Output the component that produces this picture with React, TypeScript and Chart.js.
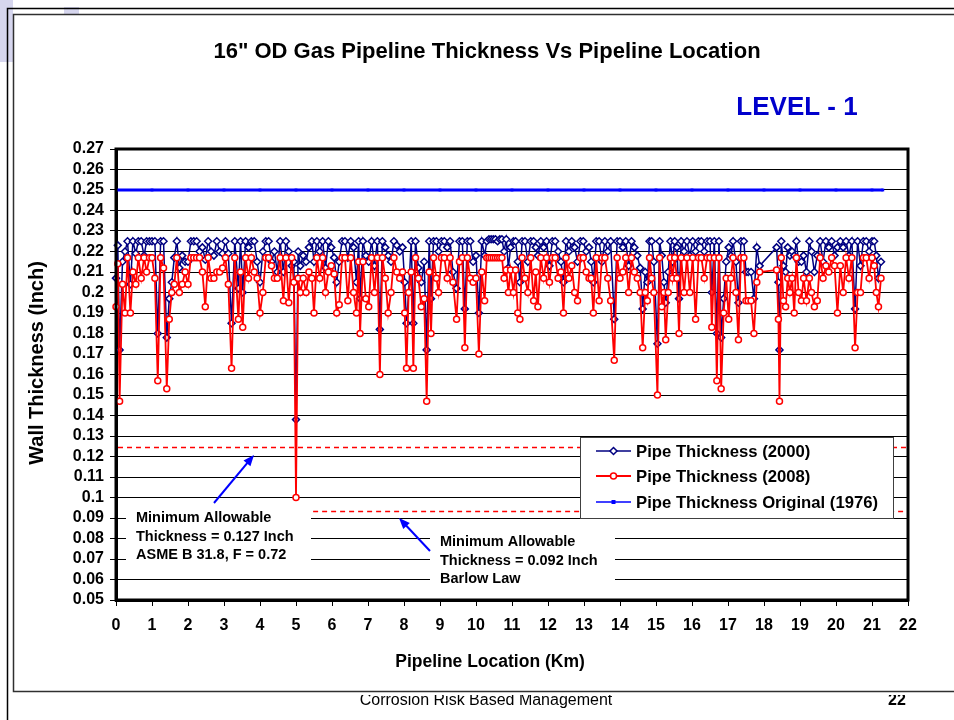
import React, { useEffect, useRef } from "react";
import { Chart, registerables } from "chart.js";

Chart.register(...registerables);

// ---------------- data ----------------
const LOCATION_KM = [
  0.0, 0.05, 0.1, 0.18, 0.25, 0.32, 0.4, 0.47, 0.55, 0.62, 0.7, 0.78, 0.85, 0.93,
  1.0, 1.08, 1.16, 1.24, 1.32, 1.41, 1.48, 1.55, 1.62, 1.69, 1.76, 1.84, 1.92,
  2.0, 2.08, 2.16, 2.24, 2.32, 2.4, 2.48, 2.56, 2.64, 2.72, 2.8, 2.88, 2.96,
  3.04, 3.12, 3.21, 3.3, 3.4, 3.46, 3.52, 3.6, 3.68, 3.76, 3.84, 3.92, 4.0,
  4.08, 4.16, 4.24, 4.32, 4.4, 4.48, 4.56, 4.65, 4.72, 4.8, 4.88, 4.94, 5.0, 5.06,
  5.12, 5.2, 5.28, 5.36, 5.44, 5.5, 5.58, 5.66, 5.74, 5.82, 5.9, 5.98,
  6.06, 6.13, 6.2, 6.28, 6.36, 6.44, 6.52, 6.6, 6.68, 6.74, 6.78, 6.86, 6.94,
  7.02, 7.1, 7.18, 7.26, 7.33, 7.4, 7.48, 7.56, 7.64, 7.72, 7.8, 7.88, 7.96,
  8.02, 8.07, 8.13, 8.2, 8.26, 8.32, 8.4, 8.48, 8.56, 8.63, 8.7, 8.75, 8.82, 8.9, 8.96,
  9.04, 9.12, 9.2, 9.28, 9.36, 9.46, 9.54, 9.62, 9.69, 9.76, 9.84, 9.92, 10.0, 10.08,
  10.16, 10.24, 10.3, 10.36, 10.42, 10.48, 10.54, 10.6, 10.66, 10.72, 10.78, 10.84, 10.9, 10.96,
  11.04, 11.1, 11.16, 11.22, 11.28, 11.36, 11.44, 11.52, 11.6, 11.66, 11.72, 11.8, 11.88, 11.96,
  12.04, 12.12, 12.2, 12.28, 12.36, 12.43, 12.5, 12.58, 12.66, 12.74, 12.82, 12.9, 12.98,
  13.06, 13.14, 13.2, 13.26, 13.34, 13.42, 13.5, 13.58, 13.66, 13.74, 13.84, 13.92, 14.0,
  14.08, 14.16, 14.24, 14.32, 14.4, 14.48, 14.56, 14.63, 14.7, 14.76, 14.82, 14.88, 14.94, 15.04,
  15.1, 15.16, 15.22, 15.27, 15.34, 15.4, 15.46, 15.52, 15.58, 15.64, 15.7, 15.78, 15.86, 15.94,
  16.02, 16.1, 16.18, 16.26, 16.34, 16.42, 16.5, 16.55, 16.62, 16.69, 16.75, 16.81, 16.88, 16.95,
  17.02, 17.08, 17.14, 17.22, 17.29, 17.36, 17.44, 17.5, 17.56, 17.64, 17.72, 17.8, 17.88,
  18.35, 18.4, 18.43, 18.48, 18.54, 18.6, 18.66, 18.72, 18.78, 18.84, 18.9, 18.96,
  19.04, 19.1, 19.18, 19.26, 19.32, 19.4, 19.48, 19.56, 19.64, 19.72, 19.8, 19.88, 19.96,
  20.04, 20.12, 20.2, 20.28, 20.36, 20.44, 20.53, 20.6, 20.68, 20.76, 20.84, 20.92, 21.0, 21.06, 21.12, 21.18, 21.25,
];

const THICKNESS_2000 = [
  0.207, 0.223, 0.172, 0.215, 0.22, 0.225, 0.204, 0.225, 0.219, 0.225, 0.225, 0.218, 0.225, 0.225,
  0.225, 0.225, 0.18, 0.225, 0.225, 0.178, 0.197, 0.205, 0.217, 0.225, 0.212, 0.218, 0.215,
  0.215, 0.225, 0.225, 0.225, 0.22, 0.222, 0.216, 0.225, 0.22, 0.218, 0.225, 0.22, 0.219,
  0.225, 0.219, 0.185, 0.225, 0.202, 0.225, 0.2, 0.225, 0.222, 0.225, 0.225, 0.215, 0.205,
  0.22, 0.225, 0.225, 0.215, 0.22, 0.21, 0.225, 0.21, 0.225, 0.22, 0.213, 0.215, 0.138, 0.22,
  0.213, 0.218, 0.215, 0.222, 0.225, 0.215, 0.225, 0.22, 0.225, 0.212, 0.225, 0.222,
  0.217, 0.205, 0.215, 0.225, 0.225, 0.217, 0.225, 0.222, 0.205, 0.225, 0.197, 0.225, 0.218,
  0.215, 0.225, 0.213, 0.225, 0.182, 0.225, 0.222, 0.218, 0.215, 0.225, 0.223, 0.22, 0.222,
  0.205, 0.185, 0.2, 0.225, 0.185, 0.225, 0.212, 0.205, 0.215, 0.172, 0.225, 0.197, 0.225, 0.225, 0.22,
  0.225, 0.225, 0.222, 0.225, 0.21, 0.202, 0.225, 0.225, 0.192, 0.225, 0.225, 0.215, 0.218, 0.19,
  0.225, 0.218, 0.225, 0.226, 0.226, 0.226, 0.226, 0.225, 0.226, 0.226, 0.22, 0.226, 0.212, 0.222,
  0.225, 0.225, 0.215, 0.205, 0.225, 0.225, 0.215, 0.225, 0.225, 0.222, 0.218, 0.225, 0.222, 0.225,
  0.213, 0.225, 0.225, 0.22, 0.215, 0.205, 0.225, 0.22, 0.225, 0.222, 0.215, 0.225, 0.225,
  0.22, 0.222, 0.215, 0.205, 0.225, 0.225, 0.215, 0.225, 0.22, 0.225, 0.187, 0.225, 0.225,
  0.222, 0.225, 0.213, 0.225, 0.222, 0.218, 0.212, 0.192, 0.21, 0.205, 0.225, 0.225, 0.215, 0.175,
  0.225, 0.218, 0.205, 0.195, 0.21, 0.225, 0.215, 0.225, 0.222, 0.197, 0.225, 0.22, 0.225, 0.218,
  0.225, 0.22, 0.225, 0.225, 0.22, 0.225, 0.225, 0.2, 0.225, 0.18, 0.225, 0.178, 0.197, 0.215,
  0.222, 0.218, 0.225, 0.215, 0.195, 0.225, 0.225, 0.21, 0.21, 0.21, 0.197, 0.222, 0.213,
  0.222, 0.205, 0.172, 0.225, 0.213, 0.21, 0.222, 0.218, 0.22, 0.218, 0.225, 0.215,
  0.215, 0.218, 0.21, 0.225, 0.22, 0.21, 0.218, 0.225, 0.215, 0.225, 0.222, 0.225, 0.218,
  0.222, 0.225, 0.222, 0.225, 0.218, 0.225, 0.192, 0.225, 0.213, 0.225, 0.225, 0.22, 0.225, 0.225, 0.218, 0.207, 0.215,
];

const THICKNESS_2008 = [
  0.193, 0.214, 0.147, 0.204, 0.19, 0.217, 0.19, 0.21, 0.204, 0.217, 0.207, 0.217, 0.21, 0.217,
  0.217, 0.207, 0.157, 0.217, 0.212, 0.153, 0.187, 0.2, 0.204, 0.217, 0.2, 0.204, 0.21,
  0.204, 0.217, 0.217, 0.217, 0.217, 0.21, 0.193, 0.217, 0.207, 0.207, 0.21, 0.21, 0.212,
  0.217, 0.204, 0.163, 0.217, 0.187, 0.21, 0.183, 0.217, 0.207, 0.217, 0.21, 0.207, 0.19,
  0.2, 0.217, 0.217, 0.213, 0.207, 0.207, 0.217, 0.196, 0.217, 0.195, 0.217, 0.205, 0.1, 0.207,
  0.2, 0.207, 0.2, 0.21, 0.207, 0.19, 0.217, 0.207, 0.217, 0.2, 0.21, 0.213,
  0.209, 0.19, 0.194, 0.217, 0.217, 0.196, 0.217, 0.2, 0.19, 0.215, 0.18, 0.215, 0.197,
  0.193, 0.217, 0.2, 0.217, 0.16, 0.217, 0.207, 0.19, 0.2, 0.217, 0.21, 0.207, 0.21,
  0.19, 0.163, 0.2, 0.21, 0.163, 0.217, 0.207, 0.193, 0.197, 0.147, 0.21, 0.18, 0.217, 0.207, 0.2,
  0.217, 0.217, 0.207, 0.217, 0.205, 0.187, 0.215, 0.217, 0.173, 0.217, 0.207, 0.205, 0.207, 0.17,
  0.21, 0.196, 0.217, 0.217, 0.217, 0.217, 0.217, 0.217, 0.217, 0.217, 0.207, 0.211, 0.2, 0.211,
  0.2, 0.211, 0.19, 0.187, 0.217, 0.207, 0.2, 0.217, 0.196, 0.21, 0.193, 0.217, 0.207, 0.217,
  0.205, 0.217, 0.217, 0.207, 0.21, 0.19, 0.217, 0.207, 0.213, 0.2, 0.196, 0.217, 0.217,
  0.21, 0.207, 0.207, 0.19, 0.217, 0.196, 0.217, 0.217, 0.207, 0.196, 0.167, 0.217, 0.207,
  0.21, 0.217, 0.2, 0.217, 0.21, 0.207, 0.2, 0.173, 0.2, 0.196, 0.217, 0.207, 0.2, 0.15,
  0.217, 0.193, 0.2, 0.177, 0.2, 0.217, 0.207, 0.217, 0.207, 0.18, 0.217, 0.2, 0.217, 0.2,
  0.217, 0.187, 0.217, 0.217, 0.207, 0.217, 0.217, 0.183, 0.217, 0.157, 0.217, 0.153, 0.19, 0.207,
  0.187, 0.207, 0.217, 0.2, 0.177, 0.217, 0.217, 0.196, 0.196, 0.196, 0.18, 0.205, 0.21,
  0.211, 0.187, 0.147, 0.217, 0.196, 0.193, 0.207, 0.2, 0.207, 0.19, 0.217, 0.2,
  0.196, 0.207, 0.196, 0.207, 0.2, 0.193, 0.196, 0.217, 0.207, 0.213, 0.21, 0.217, 0.213,
  0.19, 0.213, 0.2, 0.217, 0.207, 0.217, 0.173, 0.2, 0.2, 0.217, 0.217, 0.207, 0.217, 0.213, 0.2, 0.193, 0.207,
];

const ORIGINAL_KM = [0, 1, 2, 3, 4, 5, 6, 7, 8, 9, 10, 11, 12, 13, 14, 15, 16, 17, 18, 19, 20, 21, 21.3];
const THICKNESS_1976 = [
  0.25, 0.25, 0.25, 0.25, 0.25, 0.25, 0.25, 0.25, 0.25, 0.25, 0.25, 0.25,
  0.25, 0.25, 0.25, 0.25, 0.25, 0.25, 0.25, 0.25, 0.25, 0.25, 0.25,
];

const SERIES_LABELS = ["Pipe Thickness (2000)", "Pipe Thickness (2008)", "Pipe Thickness Original (1976)"];

const X_MIN = 0;
const X_MAX = 22;
const X_STEP = 1;
const Y_MIN = 0.05;
const Y_MAX = 0.27;
const Y_STEP = 0.01;

// minimum allowable thickness reference lines: [value, start km, end km]
const LIMIT_ASME = [0.1245, 0, 22];
const LIMIT_BARLOW = [0.0934, 5.42, 22];

const NOTE_ASME = ["Minimum Allowable", "Thickness = 0.127 Inch", "ASME B 31.8, F = 0.72"];
const NOTE_BARLOW = ["Minimum Allowable", "Thickness = 0.092 Inch", "Barlow Law"];

const TITLE = "16\" OD Gas Pipeline Thickness Vs Pipeline Location";
const SUBTITLE = "LEVEL - 1";
const X_TITLE = "Pipeline Location (Km)";
const Y_TITLE = "Wall Thickness (Inch)";
const FOOTER = "Corrosion Risk Based Management";
const PAGE = "22";

// ---------------- styles ----------------
const FONT = '"Liberation Sans", Arial, Helvetica, sans-serif';
const NAVY = "#000080";
const RED = "#FF0000";
const BLUE = "#0000FF";

function toPoints(xs: number[], ys: number[]) {
  const n = Math.min(xs.length, ys.length);
  const out: { x: number; y: number }[] = [];
  for (let i = 0; i < n; i++) out.push({ x: xs[i], y: ys[i] });
  return out;
}

function arrow(ctx: CanvasRenderingContext2D, x1: number, y1: number, x2: number, y2: number) {
  const ang = Math.atan2(y2 - y1, x2 - x1);
  const L = 11;
  const W = 4.5;
  ctx.beginPath();
  ctx.moveTo(x1, y1);
  ctx.lineTo(x2 - Math.cos(ang) * (L - 2), y2 - Math.sin(ang) * (L - 2));
  ctx.stroke();
  ctx.beginPath();
  ctx.moveTo(x2, y2);
  ctx.lineTo(x2 - L * Math.cos(ang) + W * Math.sin(ang), y2 - L * Math.sin(ang) - W * Math.cos(ang));
  ctx.lineTo(x2 - L * Math.cos(ang) - W * Math.sin(ang), y2 - L * Math.sin(ang) + W * Math.cos(ang));
  ctx.closePath();
  ctx.fill();
}

const decorPlugin = {
  id: "decor",
  beforeDraw(chart: any) {
    const ctx = chart.ctx as CanvasRenderingContext2D;
    ctx.save();
    ctx.fillStyle = "#ffffff";
    ctx.fillRect(0, 0, chart.width, chart.height);
    ctx.restore();
  },
  afterDatasetsDraw(chart: any) {
    const ctx = chart.ctx as CanvasRenderingContext2D;
    const xs = chart.scales.x;
    const ys = chart.scales.y;
    ctx.save();

    // dashed limit lines
    ctx.strokeStyle = RED;
    ctx.lineWidth = 1.5;
    ctx.setLineDash([5, 4]);
    for (const [v, a, b] of [LIMIT_ASME, LIMIT_BARLOW]) {
      const py = Math.round(ys.getPixelForValue(v)) + 0.5;
      ctx.beginPath();
      ctx.moveTo(xs.getPixelForValue(a) + 2, py);
      ctx.lineTo(xs.getPixelForValue(b) - 2, py);
      ctx.stroke();
    }
    ctx.setLineDash([]);

    // annotation boxes
    ctx.fillStyle = "#ffffff";
    ctx.fillRect(126, 505, 185, 68);
    ctx.fillRect(430, 524, 185, 67);
    ctx.fillStyle = "#000000";
    ctx.font = `bold 14.5px ${FONT}`;
    ctx.textBaseline = "middle";
    ctx.textAlign = "left";
    NOTE_ASME.forEach((t, i) => ctx.fillText(t, 136, 518 + i * 18.5));
    NOTE_BARLOW.forEach((t, i) => ctx.fillText(t, 440, 542 + i * 18.5));

    // arrows
    ctx.strokeStyle = BLUE;
    ctx.fillStyle = BLUE;
    ctx.lineWidth = 2;
    arrow(ctx, 214, 503, 254, 455);
    arrow(ctx, 430, 551, 399, 518);

    // legend
    ctx.fillStyle = "#ffffff";
    ctx.fillRect(580, 437, 313, 81);
    ctx.strokeStyle = "#404040";
    ctx.lineWidth = 1;
    ctx.strokeRect(580.5, 437.5, 313, 81);
    const rows = [451, 476, 502];
    // 2000
    ctx.strokeStyle = NAVY;
    ctx.lineWidth = 1.5;
    ctx.beginPath();
    ctx.moveTo(596, rows[0]);
    ctx.lineTo(631, rows[0]);
    ctx.stroke();
    ctx.fillStyle = "#ffffff";
    ctx.beginPath();
    ctx.moveTo(613.5, rows[0] - 3.5);
    ctx.lineTo(617, rows[0]);
    ctx.lineTo(613.5, rows[0] + 3.5);
    ctx.lineTo(610, rows[0]);
    ctx.closePath();
    ctx.fill();
    ctx.stroke();
    // 2008
    ctx.strokeStyle = RED;
    ctx.lineWidth = 1.8;
    ctx.beginPath();
    ctx.moveTo(596, rows[1]);
    ctx.lineTo(631, rows[1]);
    ctx.stroke();
    ctx.lineWidth = 1.5;
    ctx.beginPath();
    ctx.arc(613.5, rows[1], 3, 0, Math.PI * 2);
    ctx.fill();
    ctx.stroke();
    // 1976
    ctx.strokeStyle = BLUE;
    ctx.lineWidth = 1.5;
    ctx.beginPath();
    ctx.moveTo(596, rows[2]);
    ctx.lineTo(631, rows[2]);
    ctx.stroke();
    ctx.fillStyle = BLUE;
    ctx.fillRect(611.5, rows[2] - 2, 4, 4);

    ctx.fillStyle = "#000000";
    ctx.font = `bold 16.7px ${FONT}`;
    ctx.textBaseline = "middle";
    SERIES_LABELS.forEach((t, i) => ctx.fillText(t, 636, rows[i] + 1));
    ctx.restore();
  },
  afterDraw(chart: any) {
    const ctx = chart.ctx as CanvasRenderingContext2D;
    const a = chart.chartArea;
    ctx.save();
    // plot border
    ctx.strokeStyle = "#000000";
    ctx.lineWidth = 3;
    ctx.strokeRect(a.left, a.top, a.right - a.left, a.bottom - a.top);

    // slide decoration
    ctx.fillStyle = "#d6d6ee";
    ctx.fillRect(0, 0, 13, 62);
    ctx.fillRect(64, 7, 15, 7);
    ctx.strokeStyle = "#000000";
    ctx.lineWidth = 1.5;
    ctx.beginPath();
    ctx.moveTo(7.5, 720);
    ctx.lineTo(7.5, 8.5);
    ctx.lineTo(954, 8.5);
    ctx.stroke();
    ctx.strokeStyle = "#303030";
    ctx.lineWidth = 1.5;
    ctx.beginPath();
    ctx.moveTo(954, 14.5);
    ctx.lineTo(13.5, 14.5);
    ctx.lineTo(13.5, 691.5);
    ctx.lineTo(954, 691.5);
    ctx.stroke();

    // footer (partly hidden behind the chart frame)
    ctx.save();
    ctx.beginPath();
    ctx.rect(14, 695, 940, 25);
    ctx.clip();
    ctx.fillStyle = "#000000";
    ctx.textBaseline = "alphabetic";
    ctx.textAlign = "center";
    ctx.font = `16px ${FONT}`;
    ctx.fillText(FOOTER, 486, 705);
    ctx.font = `bold 16px ${FONT}`;
    ctx.fillText(PAGE, 897, 705);
    ctx.restore();

    // titles
    ctx.fillStyle = "#000000";
    ctx.textAlign = "center";
    ctx.textBaseline = "middle";
    ctx.font = `bold 22px ${FONT}`;
    ctx.fillText(TITLE, 487, 52);
    ctx.fillStyle = "#0000CC";
    ctx.font = `bold 26px ${FONT}`;
    ctx.fillText(SUBTITLE, 797, 108);
    ctx.fillStyle = "#000000";
    ctx.font = `bold 17.5px ${FONT}`;
    ctx.fillText(X_TITLE, 490, 662);
    ctx.translate(37, 363);
    ctx.rotate(-Math.PI / 2);
    ctx.font = `bold 20px ${FONT}`;
    ctx.fillText(Y_TITLE, 0, 0);
    ctx.restore();
  },
};

export default function App() {
  const ref = useRef<HTMLCanvasElement | null>(null);

  useEffect(() => {
    if (!ref.current) return;
    const tickFont = { family: FONT, size: 16, weight: "bold" as const };
    const chart = new Chart(ref.current, {
      type: "line",
      data: {
        datasets: [
          {
            label: SERIES_LABELS[0],
            data: toPoints(LOCATION_KM, THICKNESS_2000),
            borderColor: NAVY,
            borderWidth: 1.5,
            pointStyle: "rectRot",
            pointRadius: 3.5,
            pointBorderWidth: 1.5,
            pointBorderColor: NAVY,
            pointBackgroundColor: "#ffffff",
            tension: 0,
            order: 3,
            clip: false as any,
          },
          {
            label: SERIES_LABELS[1],
            data: toPoints(LOCATION_KM, THICKNESS_2008),
            borderColor: RED,
            borderWidth: 1.8,
            pointStyle: "circle",
            pointRadius: 3,
            pointBorderWidth: 1.5,
            pointBorderColor: RED,
            pointBackgroundColor: "#ffffff",
            tension: 0,
            order: 2,
            clip: false as any,
          },
          {
            label: SERIES_LABELS[2],
            data: toPoints(ORIGINAL_KM, THICKNESS_1976),
            borderColor: BLUE,
            borderWidth: 3,
            pointStyle: "rect",
            pointRadius: 2,
            pointBorderWidth: 0,
            pointBackgroundColor: BLUE,
            tension: 0,
            order: 1,
          },
        ],
      },
      options: {
        responsive: false,
        animation: false,
        devicePixelRatio: 1,
        layout: { padding: { left: 0, top: 149, right: 46, bottom: 60 } },
        plugins: {
          legend: { display: false },
          tooltip: { enabled: false },
          title: { display: false },
        },
        scales: {
          x: {
            type: "linear",
            min: X_MIN,
            max: X_MAX,
            ticks: { stepSize: X_STEP, autoSkip: false, maxRotation: 0, color: "#000", font: tickFont, padding: 10 },
            grid: { drawOnChartArea: false, drawTicks: true, tickLength: 6, color: "#000", lineWidth: 1 },
            border: { display: true, width: 3, color: "#000" },
            afterFit: (s: any) => {
              s.height = 60;
            },
          },
          y: {
            type: "linear",
            min: Y_MIN,
            max: Y_MAX,
            ticks: {
              stepSize: Y_STEP,
              autoSkip: false,
              color: "#000",
              font: tickFont,
              padding: 6,
              callback: (v: any) => String(Math.round(Number(v) * 100) / 100),
            },
            grid: { drawTicks: true, tickLength: 6, color: "#000", lineWidth: 1 },
            border: { display: true, width: 3, color: "#000" },
            afterFit: (s: any) => {
              s.width = 116;
            },
          },
        },
      },
      plugins: [decorPlugin],
    });
    return () => chart.destroy();
  }, []);

  return (
    <div style={{ position: "absolute", left: 0, top: 0, width: 954, height: 720, background: "#fff" }}>
      <canvas ref={ref} width={954} height={720} style={{ display: "block", width: 954, height: 720 }} />
    </div>
  );
}
